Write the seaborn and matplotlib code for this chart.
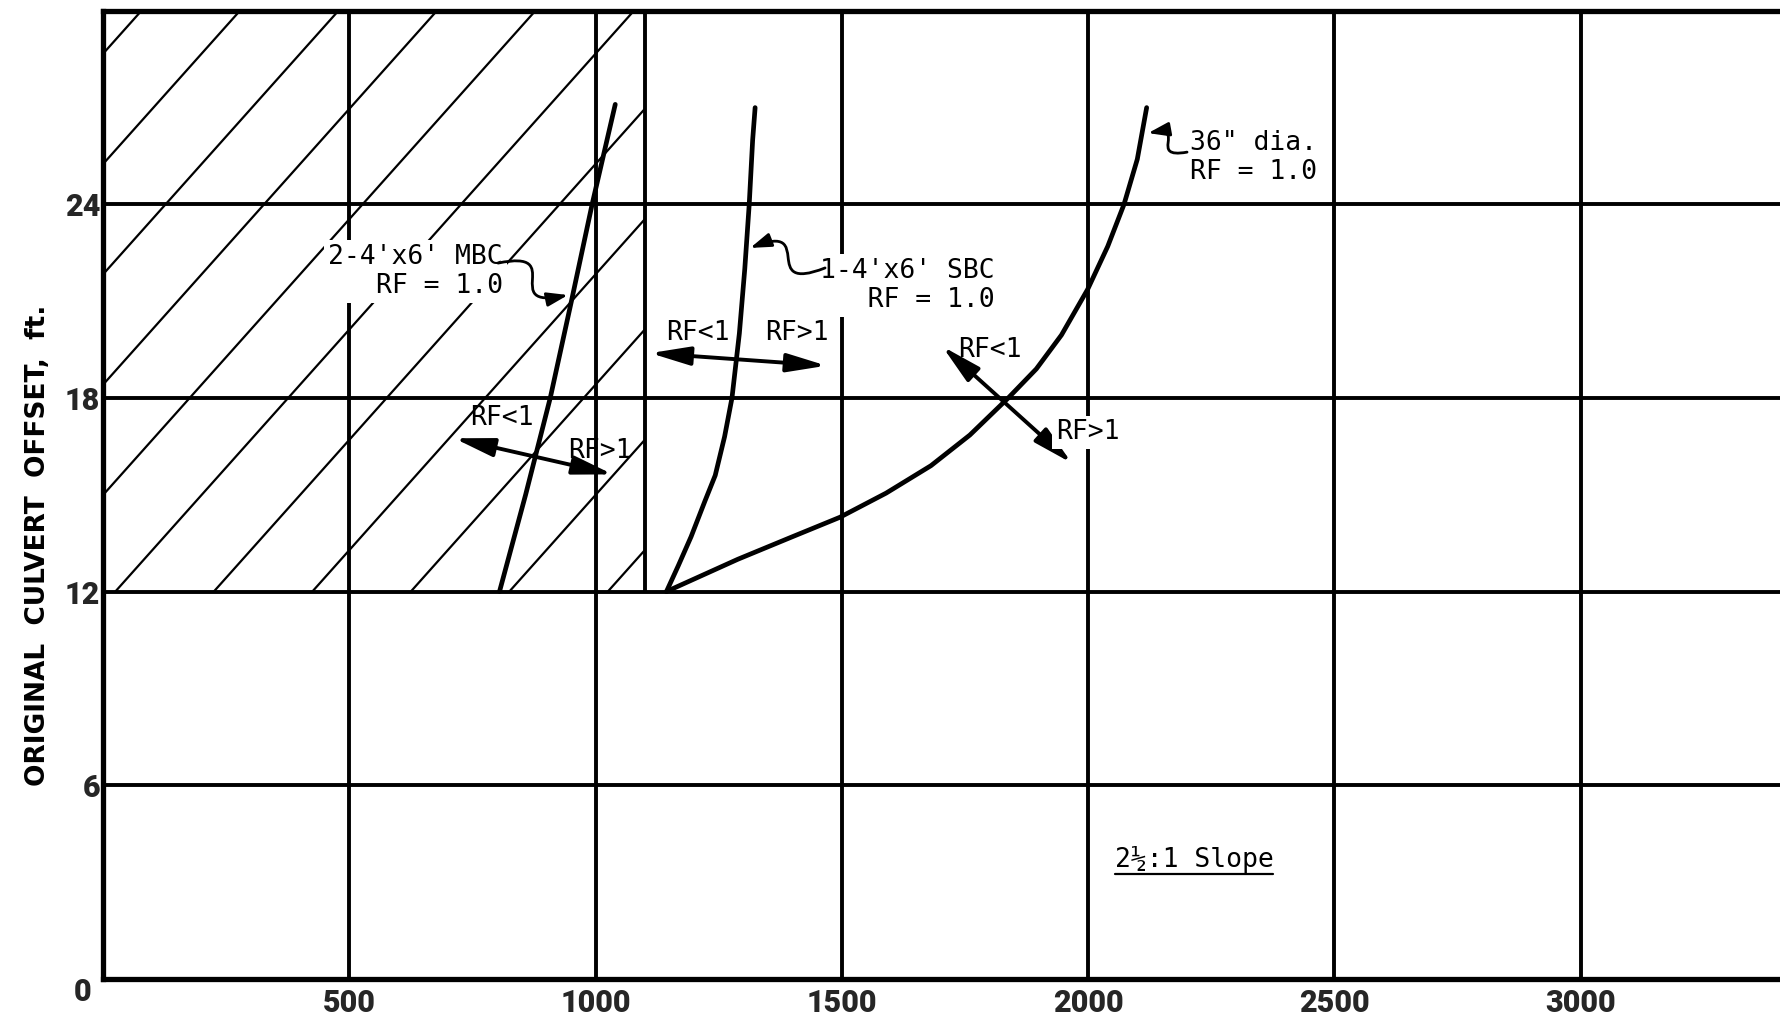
import numpy as np
import pandas as pd
import matplotlib
matplotlib.use("Agg")
import matplotlib.pyplot as plt
from matplotlib.path import Path
from matplotlib.patches import FancyArrowPatch, Rectangle
from matplotlib.collections import LineCollection
from matplotlib.lines import Line2D
from matplotlib.transforms import ScaledTranslation
import seaborn as sns

# RF = 1.0 boundary curves (x value vs. original culvert offset, ft)
mbc_x = [805, 858, 908, 951, 993, 1040]
mbc_y = [12.0, 15.0, 18.0, 21.0, 24.0, 27.1]

sbc_x = [1144, 1168, 1194, 1222, 1243, 1262, 1277, 1292, 1303, 1312, 1319, 1324]
sbc_y = [12.0, 12.8, 13.7, 14.8, 15.6, 16.8, 18.0, 20.0, 22.0, 24.0, 26.0, 27.0]

pipe_x = [1144, 1289, 1400, 1496, 1590, 1681, 1760, 1838, 1895, 1946, 1999,
          2040, 2073, 2100, 2119]
pipe_y = [12.0, 13.0, 13.7, 14.3, 15.05, 15.9, 16.85, 18.0, 18.9, 19.95, 21.36,
          22.7, 24.0, 25.4, 27.0]

curve_names = ["2-4'x6' MBC", "1-4'x6' SBC", '36" dia.']

x_ticks = [500, 1000, 1500, 2000, 2500, 3000]
y_ticks = [0, 6, 12, 18, 24]
x_limits = (0, 3405)
y_limits = (0, 30)

# cross-hatched zone
zone_x = (0, 1100)
zone_y = (12, 30)
hatch_step = 200
hatch_first = 25

# RF<1 / RF>1 direction arrows: (start, end)
rf_arrows = [((713, 16.75), (1035, 15.63)),
             ((1111, 19.39), (1469, 19.00)),
             ((1704, 19.60), (1967, 15.98))]
rf_less_pos = [(810, 17.38), (1208, 20.02), (1801, 19.50)]
rf_more_pos = [(1008, 16.36), (1409, 20.02), (1999, 16.93)]

# curve labels and leader lines (leader start, leader tip)
label_text = ["2-4'x6' MBC\nRF = 1.0", "1-4'x6' SBC\n   RF = 1.0", '36" dia.\nRF = 1.0']
label_pos = [(812, 21.92), (1456, 21.49), (2207, 25.45)]
label_ha = ["right", "left", "left"]
leaders = [((802, 22.18), (944, 21.19)),
           ((1466, 22.03), (1314, 22.65)),
           ((2201, 25.62), (2122, 26.21))]

slope_text = "2\u00bd:1 Slope"
slope_pos = (2215, 3.70)

# ---------------------------------------------------------------
sns.set_theme(style="white")
plt.rcParams["font.family"] = ["DejaVu Sans Mono", "DejaVu Sans"]

DPI = 100
fig = plt.figure(figsize=(17.8, 10.21), dpi=DPI, facecolor="white")
ax = fig.add_axes([0.0579, 0.0415, 0.9421, 0.9479])
ax.set_facecolor("white")

# hatched zone
ax.set_xlim(*x_limits)
ax.set_ylim(*y_limits)
p0 = ax.transData.transform((0, 0))
px_per_x = ax.transData.transform((1, 0))[0] - p0[0]
px_per_y = ax.transData.transform((0, 1))[1] - p0[1]
slope = 1.12 * px_per_x / px_per_y
span = (zone_y[1] - zone_y[0]) / slope
starts = np.arange(hatch_first - 6 * hatch_step, zone_x[1], hatch_step)
segs = [[(b, zone_y[0]), (b + span, zone_y[1])] for b in starts]
hatch = LineCollection(segs, colors="black", linewidths=1.6, zorder=1)
clip = Rectangle((zone_x[0], zone_y[0]), zone_x[1] - zone_x[0],
                 zone_y[1] - zone_y[0], transform=ax.transData)
ax.add_collection(hatch)
hatch.set_clip_path(clip)
ax.vlines(zone_x[1], zone_y[0], zone_y[1], color="black", linewidth=2.8, zorder=1)

# RF = 1.0 curves
frames = []
for name, xs, ys in zip(curve_names, [mbc_x, sbc_x, pipe_x], [mbc_y, sbc_y, pipe_y]):
    frames.append(pd.DataFrame({"x": xs, "offset": ys, "curve": name}))
df = pd.concat(frames, ignore_index=True)
sns.lineplot(data=df, x="x", y="offset", units="curve", estimator=None,
             sort=False, color="black", linewidth=3.4, ax=ax, legend=False,
             zorder=4)

# axes, grid and ticks
ax.set_xlim(*x_limits)
ax.set_ylim(*y_limits)
ax.set_xticks(x_ticks)
ax.set_yticks(y_ticks)
ax.grid(True, color="black", linewidth=2.8, zorder=0.5)
ax.set_axisbelow(True)

tick_font = dict(family=["Roboto", "DejaVu Sans"], weight="black", size=22)
ax.set_xticklabels([str(v) for v in x_ticks], fontdict=tick_font)
ax.set_yticklabels([str(v) for v in y_ticks], fontdict=tick_font)
ax.tick_params(axis="both", length=0)
ax.tick_params(axis="x", pad=7)
ax.tick_params(axis="y", pad=2)

for side in ["left", "bottom", "top"]:
    ax.spines[side].set_visible(True)
    ax.spines[side].set_color("black")
    ax.spines[side].set_linewidth(3.8)
ax.spines["right"].set_visible(False)

ax.set_xlabel("")
ax.set_ylabel("ORIGINAL  CULVERT  OFFSET,  ft.", family=["DejaVu Sans"],
              weight="bold", size=19, color="black")
ax.yaxis.set_label_coords(-0.031, 0.448)

# shift the corner "0" label down-left
zero_lbl = ax.get_yticklabels()[0]
zero_lbl.set_transform(zero_lbl.get_transform() +
                       ScaledTranslation(-9 / DPI, -10 / DPI, fig.dpi_scale_trans))

mono = dict(family=["DejaVu Sans Mono"], size=19, color="black")
white_box = dict(boxstyle="square,pad=0.15", fc="white", ec="none")

# RF arrows and labels
for (a, b) in rf_arrows:
    ax.annotate("", xy=b, xytext=a,
                arrowprops=dict(arrowstyle="<|-|>,head_length=1.5,head_width=0.35",
                                lw=2.8, color="black", shrinkA=0, shrinkB=0,
                                mutation_scale=16),
                zorder=5)
for x, y in rf_less_pos:
    ax.text(x, y, "RF<1", ha="center", va="center", zorder=6, **mono)
for i, (x, y) in enumerate(rf_more_pos):
    kw = dict(bbox=white_box) if i == 2 else {}
    ax.text(x, y, "RF>1", ha="center", va="center", zorder=6, **kw, **mono)

# curve labels
for txt, (x, y), ha in zip(label_text, label_pos, label_ha):
    ax.text(x, y, txt, ha=ha, va="center", multialignment=ha,
            linespacing=1.15, bbox=white_box, zorder=6, **mono)

# squiggly leader lines
for (s, t) in leaders:
    S = ax.transData.transform(s)
    T = ax.transData.transform(t)
    d = T - S
    L = np.hypot(*d)
    u = d / L
    n = np.array([-u[1], u[0]])
    P1 = S + 0.75 * d + 0.55 * L * n
    P2 = S + 0.25 * d - 0.55 * L * n
    verts = ax.transData.inverted().transform(np.array([S, P1, P2, T]))
    path = Path(verts, [Path.MOVETO, Path.CURVE4, Path.CURVE4, Path.CURVE4])
    arr = FancyArrowPatch(path=path, arrowstyle="-|>,head_length=0.9,head_width=0.3",
                          mutation_scale=14, lw=2.0, color="black", zorder=7)
    ax.add_patch(arr)

# slope note with underline
slope_lbl = ax.text(*slope_pos, slope_text, ha="center", va="center", zorder=6, **mono)
fig.canvas.draw()
bb = slope_lbl.get_window_extent()
inv = fig.transFigure.inverted()
(x0, y0), (x1, _) = inv.transform([(bb.x0, bb.y0 - 1), (bb.x1, bb.y0 - 1)])
fig.add_artist(Line2D([x0, x1], [y0, y0], color="black", linewidth=1.6,
                      transform=fig.transFigure))

fig.savefig("out.png", dpi=DPI, facecolor="white")
